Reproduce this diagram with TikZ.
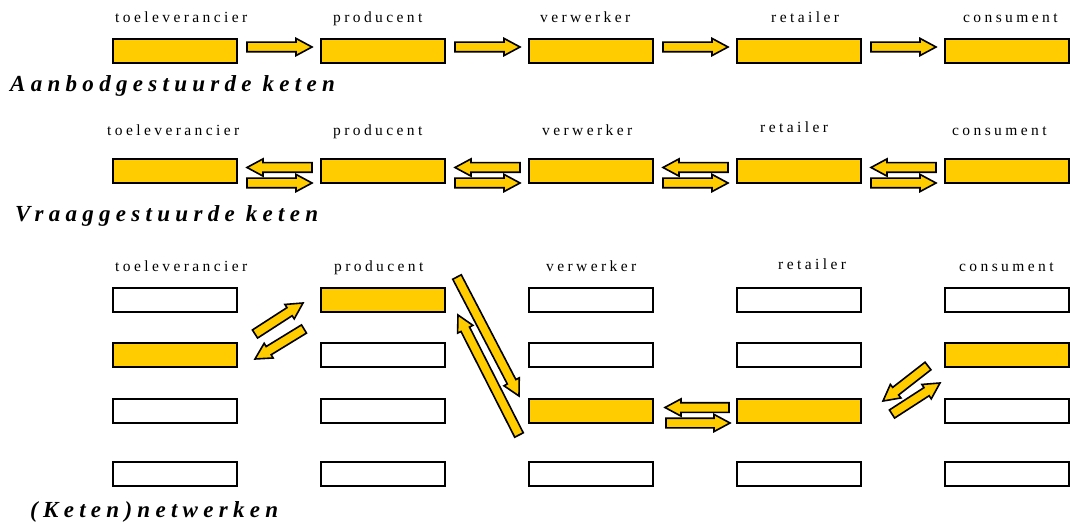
\documentclass[tikz,border=0pt]{standalone}
\usepackage{fontspec}
\setmainfont{Liberation Serif}
\newfontfamily\lblfont[LetterSpace=22]{Liberation Serif}
\newfontfamily\ttlfont[LetterSpace=23]{Liberation Serif}
\usetikzlibrary{calc}
\definecolor{ycol}{HTML}{FFCC00}
\tikzset{
  boxbase/.style={draw=black, line width=1.7pt, minimum width=124pt, minimum height=24pt, inner sep=0pt, outer sep=0pt},
  ybox/.style={boxbase, fill=ycol},
  wbox/.style={boxbase, fill=white},
  barr/.style={draw=black, fill=ycol, line width=1.6pt, line join=miter},
  lbl/.style={anchor=base west, inner sep=0pt, font=\lblfont\fontsize{15.5}{18}\selectfont},
  ttl/.style={anchor=base west, inner sep=0pt, font=\ttlfont\bfseries\itshape\fontsize{23}{27}\selectfont}
}
\newcommand\barrow[2]{%
  \path ($(#2)!16pt!(#1)$) coordinate (bh);
  \filldraw[barr] ($(#1)!4.8pt!90:(#2)$) -- ($(bh)!4.8pt!-90:(#1)$) -- ($(bh)!8.6pt!-90:(#1)$) -- (#2) -- ($(bh)!8.6pt!90:(#1)$) -- ($(bh)!4.8pt!90:(#1)$) -- ($(#1)!4.8pt!-90:(#2)$) -- cycle;}
\begin{document}
\begin{tikzpicture}[x=1pt,y=-1pt]
\useasboundingbox (0,0) rectangle (1076,526);
% ---------- row 1 ----------
\node[lbl] (l1a) at (115,23) {toeleverancier};
\node[lbl] (l1b) at (333,23) {producent};
\node[lbl] (l1c) at (540,23) {verwerker};
\node[lbl] (l1d) at (771,23) {retailer};
\node[lbl] (l1e) at (963,23) {consument};
\foreach \i in {0,...,4}{\node[ybox] (a\i) at ({175+208*\i},51) {};}
\foreach \i in {0,...,3}{
  \coordinate (pas\i) at ({247+208*\i},47);
  \coordinate (pae\i) at ({312+208*\i},47);
  \barrow{pas\i}{pae\i}
}
\node[ttl] (t1) at (10,92) {Aanbodgestuurde keten};
% ---------- row 2 ----------
\node[lbl] (l2a) at (107,136) {toeleverancier};
\node[lbl] (l2b) at (333,136) {producent};
\node[lbl] (l2c) at (542,136) {verwerker};
\node[lbl] (l2d) at (760,133) {retailer};
\node[lbl] (l2e) at (952,136) {consument};
\foreach \i in {0,...,4}{\node[ybox] (b\i) at ({175+208*\i},171) {};}
\foreach \i in {0,...,3}{
  \coordinate (qls\i) at ({312+208*\i},167.5);
  \coordinate (qle\i) at ({247+208*\i},167.5);
  \barrow{qls\i}{qle\i}
  \coordinate (qrs\i) at ({247+208*\i},183);
  \coordinate (qre\i) at ({312+208*\i},183);
  \barrow{qrs\i}{qre\i}
}
\node[ttl] (t2) at (15,222) {Vraaggestuurde keten};
% ---------- row 3 ----------
\node[lbl] (l3a) at (115,272) {toeleverancier};
\node[lbl] (l3b) at (334,272) {producent};
\node[lbl] (l3c) at (546,272) {verwerker};
\node[lbl] (l3d) at (778,270) {retailer};
\node[lbl] (l3e) at (959,272) {consument};
\foreach \i in {0,...,4}{
  \foreach \j/\y in {1/300,2/355,3/411,4/474}{
    \node[wbox] (c\i\j) at ({175+208*\i},\y) {};
  }
}
\node[ybox] at (c02) {};
\node[ybox] at (c11) {};
\node[ybox] at (c23) {};
\node[ybox] at (c33) {};
\node[ybox] at (c42) {};
% arrows toeleverancier <-> producent
\coordinate (ra1) at (255,334); \coordinate (ra2) at (303,303);
\barrow{ra1}{ra2}
\coordinate (rb1) at (304,329); \coordinate (rb2) at (255,359);
\barrow{rb1}{rb2}
% producent <-> verwerker
\coordinate (rc1) at (457,277); \coordinate (rc2) at (519,396);
\barrow{rc1}{rc2}
\coordinate (rd1) at (519,435); \coordinate (rd2) at (458,315);
\barrow{rd1}{rd2}
% verwerker <-> retailer
\coordinate (re1) at (729,407.5); \coordinate (re2) at (665,407.5);
\barrow{re1}{re2}
\coordinate (rf1) at (666,423); \coordinate (rf2) at (730,423);
\barrow{rf1}{rf2}
% retailer <-> consument
\coordinate (rg1) at (928,366); \coordinate (rg2) at (883,401);
\barrow{rg1}{rg2}
\coordinate (rh1) at (892,414); \coordinate (rh2) at (940,383);
\barrow{rh1}{rh2}
\node[ttl] (t3) at (30,517) {(Keten)netwerken};
\end{tikzpicture}
\end{document}
